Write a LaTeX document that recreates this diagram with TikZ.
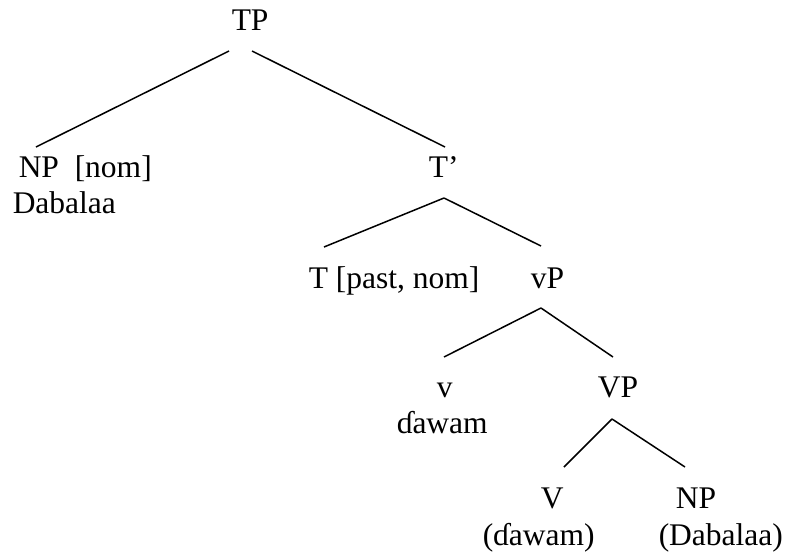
\documentclass[tikz,border=0pt]{standalone}
\usepackage{fontspec}
\setmainfont{Liberation Serif}
\usepackage{tikz}
\usetikzlibrary{calc}
\tikzset{lbl/.style={anchor=base west, inner sep=0pt, font=\fontsize{31.5}{36}\selectfont}}

\begin{document}
\begin{tikzpicture}[x=1pt, y=-1pt, line width=1.5pt]
			%%%%% START %%%%%
			\useasboundingbox (0, 0) rectangle (787, 552);
			
			\node[lbl] (tp) at (231, 30) {TP};
			
			\node[lbl] (np) at (18, 177) {NP~~[nom]};
			\node[lbl] (dab) at (12, 213) {Dabalaa};
			\node[lbl] (tbar) at (428, 177) {T’};
			
			\node[lbl] (tt) at (308, 288) {T [past, nom]};
			\node[lbl] (vsp) at (530, 288) {vP};
			
			\node[lbl] (vs) at (436, 397) {v};
			\node[lbl] (vsdaw) at (396, 433) {ɗawam};
			\node[lbl] (vp) at (597, 397) {VP};
			
			\node[lbl] (vv) at (540, 508) {V};
			\node[lbl] (vvdaw) at (482, 545) {(ɗawam)};
			\node[lbl] (npo) at (675, 508) {NP};
			\node[lbl] (npodab) at (658, 545) {(Dabalaa)};
			
			\draw ($(tp.base west)+(-2, 21)$) -- ($(np.base west)+(18, -30)$);
			\draw ($(tp.base west)+(21, 21)$) -- ($(tbar.base west)+(17, -30)$);
			
			\draw ($(tbar.base west)+(16, 21)$) -- ($(tt.base west)+(16, -41)$);
			\draw ($(tbar.base west)+(16, 21)$) -- ($(vsp.base west)+(11, -42)$);
			
			\draw ($(vsp.base west)+(11, 20)$) -- ($(vs.base west)+(8, -40)$);
			\draw ($(vsp.base west)+(11, 20)$) -- ($(vp.base west)+(16, -40)$);
			
			\draw ($(vp.base west)+(15, 22)$) -- ($(vv.base west)+(24, -41)$);
			\draw ($(vp.base west)+(15, 22)$) -- ($(npo.base west)+(10, -41)$);
			
			%%%%% END %%%%%
\end{tikzpicture}
\end{document}
